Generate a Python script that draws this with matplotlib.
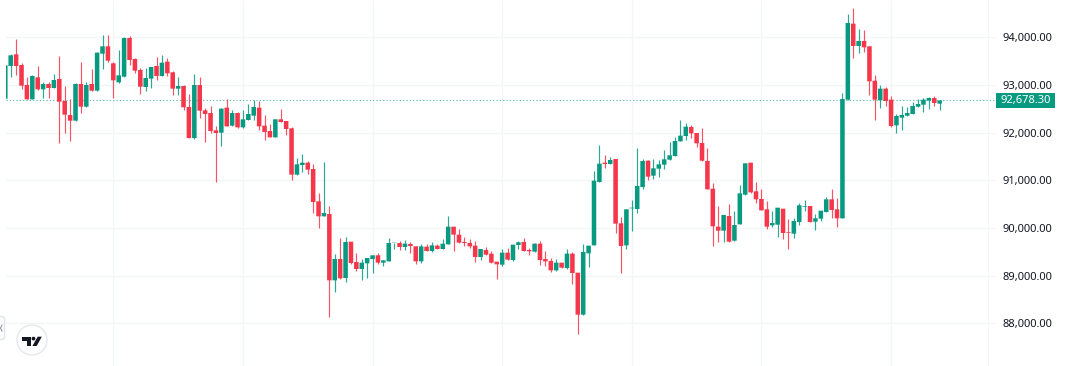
'''
BTC candlestick chart in the TradingView look
'''
import numpy as np
import matplotlib as mpl
import matplotlib.pyplot as plt
from matplotlib.patches import Circle, FancyBboxPatch, Polygon, Rectangle
from matplotlib.transforms import blended_transform_factory

mpl.rcParams['font.family'] = ['Noto Sans', 'DejaVu Sans']

GREEN = '#089981'
RED = '#F5364B'
GRID = '#F4F5F6'
TEXT = '#131722'

opens = [
    92715, 93401, 93646, 93422, 93002, 92701, 93163, 92911, 93023, 92939,
    93128, 92666, 92372, 92253, 93023, 92547, 93023, 92883, 93660, 93814,
    93457, 93058, 93177, 93989, 93548, 93317, 92960, 93135, 93401, 93191,
    93492, 93268, 92925, 92981, 92540, 91889, 93002, 92470, 92414, 92050,
    92001, 92526, 92148, 92414, 92113, 92267, 92358, 92526, 92148, 92036,
    91903, 92281, 92246, 92092, 91119, 91322, 91371, 91238, 90559, 90244,
    90293, 88900, 89348, 88949, 89712, 89285, 89138, 89257, 89348, 89425,
    89271, 89299, 89684, 89684, 89600, 89663, 89614, 89299, 89607, 89516,
    89628, 89558, 89656, 90027, 89859, 89705, 89684, 89628, 89390, 89537,
    89460, 89292, 89229, 89481, 89327, 89642, 89705, 89537, 89502, 89670,
    89348, 89306, 89110, 89271, 89159, 89460, 89061, 88179, 89467, 89635,
    90965, 91371, 91343, 91448, 90097, 89635, 90412, 90398, 90860, 91413,
    91098, 91245, 91329, 91434, 91511, 91819, 91931, 92120, 91994, 91784,
    91406, 90825, 90027, 89943, 90251, 89733, 90076, 90699, 91371, 90769,
    90608, 90391, 90055, 90069, 90405, 89915, 89880, 90125, 90447, 90461,
    90132, 90195, 90335, 90601, 90391, 90202, 92694, 94290, 93821, 93926,
    93814, 93093, 92680, 92925, 92694, 92155, 92316, 92358, 92393, 92547,
    92589, 92673, 92729, 92610,
]
highs = [
    93415, 93646, 93961, 93457, 93163, 93212, 93401, 93058, 93072, 93226,
    93611, 92981, 92715, 93037, 93485, 93072, 93338, 93688, 94059, 94059,
    93485, 93737, 94010, 94038, 93576, 93352, 93359, 93380, 93590, 93625,
    93569, 93289, 93170, 92995, 92813, 93233, 93170, 92512, 92561, 92148,
    92526, 92701, 92470, 92428, 92470, 92603, 92694, 92659, 92372, 92183,
    92288, 92491, 92246, 92127, 91469, 91546, 91406, 91336, 90727, 91385,
    90461, 89460, 89789, 89803, 89712, 89467, 89341, 89369, 89425, 89481,
    89320, 89782, 89691, 89726, 89747, 89698, 89614, 89656, 89663, 89698,
    89656, 89768, 90244, 90027, 89971, 89803, 89761, 89726, 89558, 89593,
    89509, 89292, 89558, 89579, 89649, 89726, 89782, 89579, 89684, 89726,
    89516, 89369, 89348, 89271, 89558, 89495, 89061, 89656, 89628, 91203,
    91735, 91532, 91490, 91448, 90237, 90391, 90587, 91679, 91448, 91427,
    91448, 91420, 91637, 91805, 91903, 92267, 92204, 92162, 91994, 92092,
    91679, 90937, 90461, 90272, 90503, 90356, 90902, 91357, 91371, 90972,
    90825, 90559, 90356, 90426, 90405, 90188, 90209, 90517, 90587, 90461,
    90293, 90363, 90650, 90811, 90622, 92827, 94493, 94612, 94178, 94157,
    93814, 93212, 93002, 92953, 92778, 92393, 92561, 92547, 92652, 92715,
    92729, 92743, 92771, 92678,
]
lows = [
    92715, 93177, 93212, 92911, 92701, 92701, 92897, 92736, 92736, 92932,
    91777, 92001, 91833, 92253, 92421, 92547, 92869, 92883, 93345, 93492,
    92736, 93051, 93177, 93415, 93247, 92813, 92869, 92939, 93107, 93191,
    93191, 92792, 92792, 92470, 91889, 91861, 92302, 91805, 92001, 90958,
    91728, 92134, 92148, 92099, 92099, 92267, 92267, 92057, 91854, 91903,
    91903, 92225, 91959, 91014, 91119, 91168, 91133, 90321, 89999, 90244,
    88123, 88655, 88935, 88858, 89243, 89089, 88914, 88949, 89047, 89243,
    89201, 89299, 89558, 89537, 89537, 89481, 89236, 89271, 89509, 89502,
    89558, 89558, 89656, 89523, 89691, 89621, 89586, 89292, 89327, 89425,
    89257, 88935, 89208, 89320, 89313, 89558, 89509, 89439, 89502, 89222,
    89201, 89068, 89103, 89166, 89145, 88823, 87766, 88179, 89180, 89635,
    90965, 91259, 91343, 89901, 89054, 89565, 89943, 90321, 90825, 91000,
    91035, 91070, 91245, 91434, 91511, 91819, 91854, 91896, 91700, 91413,
    90811, 89621, 89705, 89705, 89712, 89733, 90076, 90692, 90741, 90517,
    90370, 89978, 90020, 89803, 89768, 89565, 89796, 90069, 90356, 90125,
    89957, 90153, 90335, 90202, 90027, 90202, 92694, 93569, 93681, 93702,
    92792, 92267, 92526, 92561, 92113, 91994, 92057, 92344, 92393, 92547,
    92435, 92505, 92568, 92484,
]
closes = [
    93415, 93625, 93401, 92988, 92701, 93191, 92911, 93023, 92939, 93107,
    92652, 92379, 92253, 93023, 92547, 93002, 92883, 93681, 93814, 93513,
    93100, 93205, 93989, 93527, 93303, 92967, 93149, 93380, 93191, 93471,
    93247, 92925, 92981, 92533, 91889, 93002, 92463, 92393, 92036, 91994,
    92505, 92134, 92414, 92113, 92281, 92393, 92540, 92134, 92015, 91903,
    92281, 92225, 92078, 91119, 91336, 91371, 91224, 90545, 90244, 90314,
    88900, 89348, 88942, 89705, 89264, 89138, 89271, 89369, 89425, 89271,
    89320, 89684, 89691, 89600, 89670, 89621, 89299, 89614, 89516, 89635,
    89558, 89670, 90027, 89859, 89691, 89684, 89614, 89390, 89558, 89439,
    89271, 89236, 89481, 89334, 89649, 89698, 89516, 89509, 89670, 89327,
    89299, 89110, 89271, 89166, 89460, 89054, 88179, 89495, 89628, 90993,
    91350, 91343, 91427, 90090, 89621, 90391, 90426, 90881, 91406, 91077,
    91252, 91336, 91441, 91525, 91826, 91938, 92127, 91987, 91777, 91413,
    90811, 90034, 89943, 90272, 89712, 90062, 90727, 91357, 90748, 90601,
    90370, 90027, 90104, 90426, 89894, 89901, 90146, 90475, 90461, 90125,
    90202, 90363, 90601, 90377, 90202, 92708, 94304, 93821, 93926, 93793,
    93079, 92694, 92925, 92666, 92141, 92351, 92372, 92414, 92561, 92603,
    92694, 92729, 92624, 92678,
]

price_ticks = [88000, 89000, 90000, 91000, 92000, 93000, 94000]
time_grid = [20, 44, 68, 92, 116, 140, 164]
last_price = 92678.30

if __name__ == "__main__":
    fig = plt.figure(figsize=(10.7, 3.66), dpi=100, facecolor='white')
    ax = fig.add_axes([6 / 1070, 0, 982 / 1070, 1])
    ax.set_xlim(0.13, 181.95)
    ax.set_ylim(87101, 94787)

    opens_arr = np.array(opens)
    closes_arr = np.array(closes)
    xs = np.arange(len(opens))
    colors = [GREEN if c >= o else RED for o, c in zip(opens, closes)]

    ax.vlines(time_grid, 87101, 94787, color=GRID, lw=1, zorder=1)
    ax.vlines(xs, lows, highs, color=colors, lw=0.85, alpha=0.85, zorder=3)
    # snapping off so every body keeps the same width
    bars = ax.bar(xs, np.abs(closes_arr - opens_arr), bottom=np.minimum(opens_arr, closes_arr),
                  width=0.84, color=colors, linewidth=0, zorder=4)
    for bar in bars:
        bar.set_snap(False)

    ax.yaxis.tick_right()
    ax.set_xticks([])
    ax.set_yticks(price_ticks)
    ax.set_yticklabels([f'{p:,.2f}' for p in price_ticks])
    ax.tick_params(axis='y', length=5.76, width=0.8, color=GRID, pad=5, labelsize=8,
                   labelcolor=TEXT)
    ax.grid(axis='y', color=GRID, lw=1, zorder=1)
    ax.set_axisbelow(True)
    for name, spine in ax.spines.items():
        spine.set_visible(name == 'right')
        spine.set_color(GRID)

    # last price line and its badge, x in axes fraction so they run past the pane
    trans = blended_transform_factory(ax.transAxes, ax.transData)
    ax.plot([0, 990 / 982], [last_price, last_price], transform=trans, color=GREEN,
            lw=0.8, ls=(0, (1, 2)), alpha=0.7, clip_on=False, zorder=2)
    ax.add_patch(Rectangle((990 / 982, last_price - 158), 59 / 982, 316, transform=trans,
                           facecolor=GREEN, edgecolor='none', clip_on=False, zorder=5))
    ax.text(1019.5 / 982, last_price, f'{last_price:,.2f}', transform=trans, color='white',
            fontsize=8, fontweight='semibold', ha='center', va='center', clip_on=False, zorder=6)

    # logo and collapse button, drawn in pixels
    over = fig.add_axes([0, 0, 1, 1], facecolor='none')
    over.set_xlim(0, 1070)
    over.set_ylim(366, 0)
    over.axis('off')
    over.add_patch(Circle((32, 340), 15, facecolor='white', edgecolor='#E6E8EF', lw=1))
    over.add_patch(Rectangle((22, 336.7), 8.7, 4, facecolor=TEXT, edgecolor='none'))
    over.add_patch(Rectangle((26.7, 336.7), 4, 9.3, facecolor=TEXT, edgecolor='none'))
    over.add_patch(Circle((33.5, 338.6), 1.9, facecolor=TEXT, edgecolor='none'))
    over.add_patch(Polygon([(37.7, 336.7), (41.8, 336.7), (36.7, 346), (32.4, 346)],
                           facecolor=TEXT, edgecolor='none'))
    over.add_patch(FancyBboxPatch((-6, 316.5), 10.5, 23, boxstyle='round,pad=0,rounding_size=2.5',
                                  facecolor='white', edgecolor='#E0E3EB', lw=1))
    over.plot([2, 0.5, 2], [325, 328, 331], color='#9598A1', lw=0.8)

    fig.savefig('out.png', dpi=100)
